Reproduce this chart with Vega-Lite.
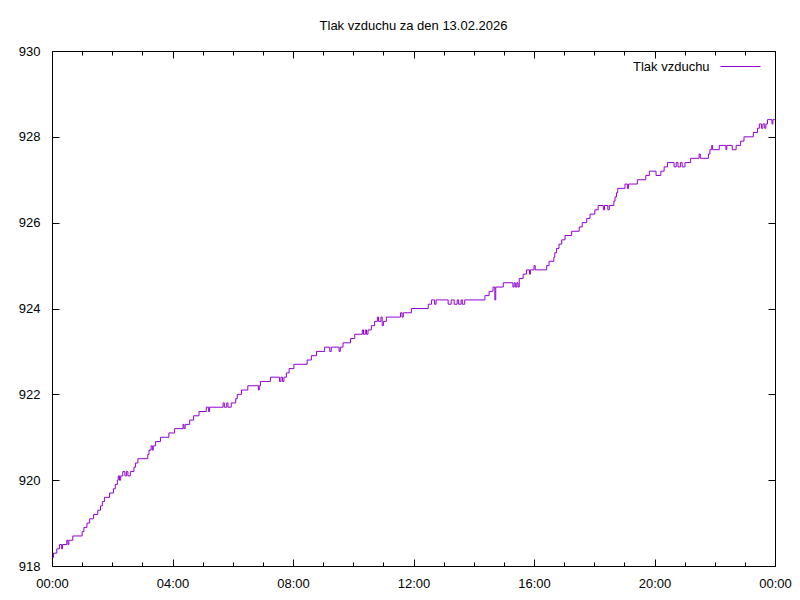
{
  "$schema": "https://vega.github.io/schema/vega-lite/v6.json",
  "width": 723,
  "height": 515,
  "autosize": {"type": "none"},
  "padding": {"left": 52, "top": 51, "right": 25, "bottom": 34},
  "background": "#ffffff",
  "config": {
    "view": {"stroke": "#000000", "strokeWidth": 1},
    "font": "Liberation Sans",
    "axis": {"grid": false, "domain": false, "labelFont": "Liberation Sans", "labelFontSize": 13, "labelColor": "#000000", "tickColor": "#000000", "tickWidth": 1, "labelFlush": false, "labelOverlap": false, "title": null}
  },
  "title": {"text": "Tlak vzduchu za den 13.02.2026", "font": "Liberation Sans", "fontSize": 13, "fontWeight": "normal", "color": "#000000", "anchor": "middle", "offset": 12},
  "data": {"values": [
    {"h":0.00,"p":918.2},{"h":0.05,"p":918.3},{"h":0.16,"p":918.4},{"h":0.25,"p":918.5},{"h":0.32,"p":918.4},{"h":0.35,"p":918.5},
    {"h":0.49,"p":918.6},{"h":0.53,"p":918.5},{"h":0.56,"p":918.6},{"h":0.69,"p":918.7},{"h":1.00,"p":918.8},{"h":1.06,"p":918.9},
    {"h":1.16,"p":919.0},{"h":1.25,"p":919.1},{"h":1.38,"p":919.2},{"h":1.52,"p":919.3},{"h":1.61,"p":919.4},{"h":1.67,"p":919.5},
    {"h":1.74,"p":919.6},{"h":1.91,"p":919.7},{"h":2.04,"p":919.8},{"h":2.10,"p":919.9},{"h":2.17,"p":920.0},{"h":2.20,"p":920.1},
    {"h":2.24,"p":920.0},{"h":2.28,"p":920.1},{"h":2.35,"p":920.2},{"h":2.42,"p":920.1},{"h":2.47,"p":920.2},{"h":2.52,"p":920.1},
    {"h":2.60,"p":920.2},{"h":2.72,"p":920.3},{"h":2.77,"p":920.4},{"h":2.85,"p":920.5},{"h":3.18,"p":920.6},{"h":3.22,"p":920.7},
    {"h":3.29,"p":920.8},{"h":3.33,"p":920.7},{"h":3.36,"p":920.8},{"h":3.44,"p":920.9},{"h":3.60,"p":921.0},{"h":3.88,"p":921.1},
    {"h":4.07,"p":921.2},{"h":4.35,"p":921.3},{"h":4.38,"p":921.2},{"h":4.42,"p":921.3},{"h":4.57,"p":921.4},{"h":4.70,"p":921.5},
    {"h":4.88,"p":921.6},{"h":5.12,"p":921.7},{"h":5.20,"p":921.6},{"h":5.23,"p":921.7},{"h":5.68,"p":921.8},{"h":5.72,"p":921.7},
    {"h":5.80,"p":921.8},{"h":5.84,"p":921.7},{"h":5.95,"p":921.8},{"h":6.10,"p":921.9},{"h":6.15,"p":922.0},{"h":6.29,"p":922.1},
    {"h":6.50,"p":922.2},{"h":6.85,"p":922.1},{"h":6.88,"p":922.2},{"h":6.92,"p":922.3},{"h":7.25,"p":922.4},{"h":7.55,"p":922.3},
    {"h":7.60,"p":922.4},{"h":7.65,"p":922.3},{"h":7.70,"p":922.4},{"h":7.78,"p":922.5},{"h":7.87,"p":922.6},{"h":8.03,"p":922.7},
    {"h":8.47,"p":922.8},{"h":8.61,"p":922.9},{"h":8.78,"p":923.0},{"h":9.05,"p":923.1},{"h":9.22,"p":923.0},{"h":9.27,"p":923.1},
    {"h":9.53,"p":923.0},{"h":9.57,"p":923.1},{"h":9.66,"p":923.2},{"h":9.91,"p":923.3},{"h":10.05,"p":923.4},{"h":10.30,"p":923.5},
    {"h":10.34,"p":923.4},{"h":10.40,"p":923.5},{"h":10.44,"p":923.4},{"h":10.49,"p":923.5},{"h":10.60,"p":923.6},{"h":10.71,"p":923.7},
    {"h":10.80,"p":923.8},{"h":10.84,"p":923.7},{"h":10.92,"p":923.8},{"h":10.96,"p":923.6},{"h":11.00,"p":923.7},{"h":11.10,"p":923.8},
    {"h":11.57,"p":923.9},{"h":11.62,"p":923.8},{"h":11.66,"p":923.9},{"h":11.93,"p":924.0},{"h":12.49,"p":924.1},{"h":12.60,"p":924.2},
    {"h":12.70,"p":924.1},{"h":12.75,"p":924.2},{"h":13.15,"p":924.1},{"h":13.25,"p":924.2},{"h":13.35,"p":924.1},{"h":13.45,"p":924.2},
    {"h":13.50,"p":924.1},{"h":13.58,"p":924.2},{"h":13.62,"p":924.1},{"h":13.70,"p":924.2},{"h":14.37,"p":924.3},{"h":14.51,"p":924.4},
    {"h":14.64,"p":924.5},{"h":14.70,"p":924.2},{"h":14.73,"p":924.5},{"h":14.98,"p":924.6},{"h":15.30,"p":924.5},{"h":15.34,"p":924.6},
    {"h":15.38,"p":924.5},{"h":15.43,"p":924.6},{"h":15.47,"p":924.5},{"h":15.51,"p":924.7},{"h":15.64,"p":924.8},{"h":15.75,"p":924.9},
    {"h":15.85,"p":924.8},{"h":15.88,"p":924.9},{"h":16.00,"p":925.0},{"h":16.04,"p":924.9},{"h":16.42,"p":925.0},{"h":16.50,"p":925.1},
    {"h":16.66,"p":925.2},{"h":16.69,"p":925.3},{"h":16.75,"p":925.4},{"h":16.83,"p":925.5},{"h":16.92,"p":925.6},{"h":17.03,"p":925.7},
    {"h":17.25,"p":925.8},{"h":17.50,"p":925.9},{"h":17.60,"p":926.0},{"h":17.75,"p":926.1},{"h":17.86,"p":926.2},{"h":18.02,"p":926.3},
    {"h":18.13,"p":926.4},{"h":18.30,"p":926.3},{"h":18.34,"p":926.4},{"h":18.45,"p":926.3},{"h":18.50,"p":926.4},{"h":18.65,"p":926.5},
    {"h":18.69,"p":926.6},{"h":18.74,"p":926.7},{"h":18.78,"p":926.8},{"h":19.02,"p":926.9},{"h":19.10,"p":926.8},{"h":19.14,"p":926.9},
    {"h":19.43,"p":927.0},{"h":19.71,"p":927.1},{"h":19.83,"p":927.2},{"h":20.05,"p":927.1},{"h":20.21,"p":927.2},{"h":20.32,"p":927.3},
    {"h":20.43,"p":927.4},{"h":20.65,"p":927.3},{"h":20.72,"p":927.4},{"h":20.78,"p":927.3},{"h":20.86,"p":927.4},{"h":20.92,"p":927.3},
    {"h":21.01,"p":927.4},{"h":21.20,"p":927.5},{"h":21.48,"p":927.6},{"h":21.52,"p":927.5},{"h":21.79,"p":927.6},{"h":21.84,"p":927.7},
    {"h":21.90,"p":927.8},{"h":21.93,"p":927.7},{"h":22.15,"p":927.8},{"h":22.37,"p":927.7},{"h":22.40,"p":927.8},{"h":22.58,"p":927.7},
    {"h":22.71,"p":927.8},{"h":22.86,"p":927.9},{"h":22.97,"p":928.0},{"h":23.28,"p":928.1},{"h":23.42,"p":928.2},{"h":23.48,"p":928.3},
    {"h":23.55,"p":928.2},{"h":23.60,"p":928.3},{"h":23.66,"p":928.2},{"h":23.70,"p":928.3},{"h":23.75,"p":928.4},{"h":23.90,"p":928.3},
    {"h":23.93,"p":928.4},{"h":24.00,"p":928.4}
  ]},
  "resolve": {"axis": {"x": "independent", "y": "independent"}},
  "layer": [
    {
      "mark": {"type": "line", "interpolate": "step-after", "strokeWidth": 1},
      "encoding": {
        "x": {"field": "h", "type": "quantitative", "scale": {"domain": [0, 24], "nice": false, "zero": false},
              "axis": {"orient": "bottom", "values": [0,4,8,12,16,20,24], "ticks": false, "tickSize": 0, "labelPadding": 11,
                       "labelExpr": "(datum.value % 24 < 10 ? '0' : '') + (datum.value % 24) + ':00'"}},
        "y": {"field": "p", "type": "quantitative", "scale": {"domain": [918, 930], "nice": false, "zero": false},
              "axis": {"orient": "left", "values": [918,920,922,924,926,928,930], "ticks": false, "tickSize": 0, "labelPadding": 12}},
        "color": {"datum": "Tlak vzduchu", "type": "nominal", "scale": {"range": ["#9400d3"]},
                  "legend": {"orient": "none", "legendX": 580, "legendY": -5, "title": null, "symbolType": "stroke", "symbolSize": 1600,
                             "symbolStrokeWidth": 1, "labelOffset": -128, "symbolOffset": 88, "labelFont": "Liberation Sans",
                             "labelFontSize": 13, "labelColor": "#000000", "padding": 0}}
      }
    },
    {
      "mark": {"type": "line", "strokeOpacity": 0},
      "encoding": {
        "x": {"field": "h", "type": "quantitative", "axis": {"orient": "bottom", "values": [0,4,8,12,16,20,24], "labels": false, "tickSize": 7, "offset": -7}},
        "y": {"field": "p", "type": "quantitative", "axis": {"orient": "left", "values": [918,920,922,924,926,928,930], "labels": false, "tickSize": 7, "offset": -7}}
      }
    },
    {
      "mark": {"type": "line", "strokeOpacity": 0},
      "encoding": {
        "x": {"field": "h", "type": "quantitative", "axis": {"orient": "top", "values": [0,4,8,12,16,20,24], "labels": false, "tickSize": 7, "offset": -7}},
        "y": {"field": "p", "type": "quantitative", "axis": {"orient": "right", "values": [918,920,922,924,926,928,930], "labels": false, "tickSize": 7, "offset": -7}}
      }
    },
    {
      "mark": {"type": "line", "strokeOpacity": 0},
      "encoding": {
        "x": {"field": "h", "type": "quantitative", "axis": {"orient": "bottom", "values": [1,2,3,5,6,7,9,10,11,13,14,15,17,18,19,21,22,23], "labels": false, "tickSize": 4, "offset": -4}},
        "y": {"field": "p", "type": "quantitative", "axis": null}
      }
    },
    {
      "mark": {"type": "line", "strokeOpacity": 0},
      "encoding": {
        "x": {"field": "h", "type": "quantitative", "axis": {"orient": "top", "values": [1,2,3,5,6,7,9,10,11,13,14,15,17,18,19,21,22,23], "labels": false, "tickSize": 4, "offset": -4}},
        "y": {"field": "p", "type": "quantitative", "axis": null}
      }
    }
  ]
}
